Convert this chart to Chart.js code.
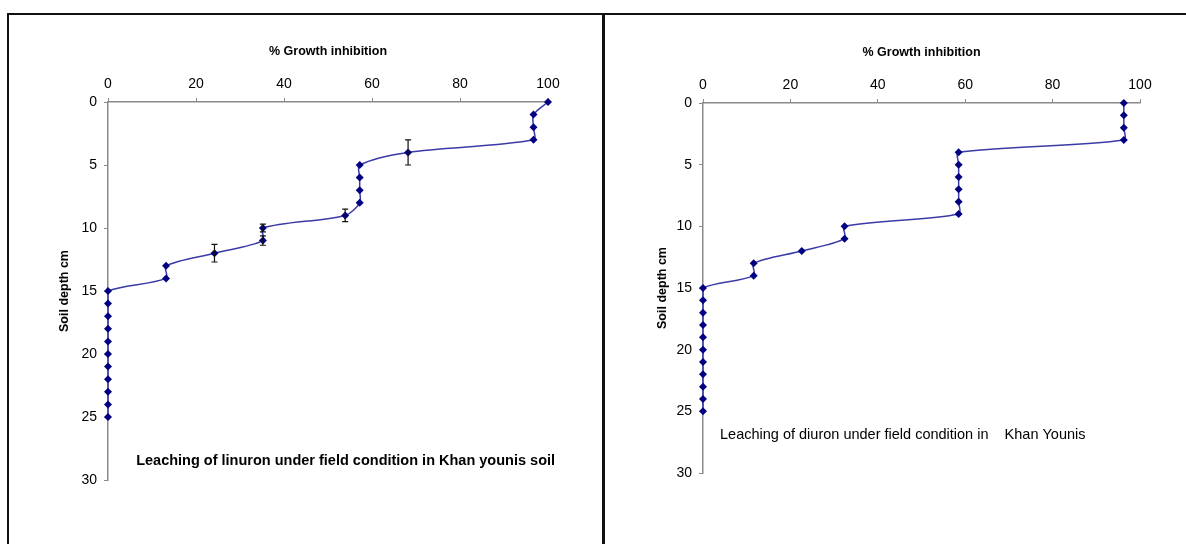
<!DOCTYPE html>
<html>
<head>
<meta charset="utf-8">
<script src="https://cdn.jsdelivr.net/npm/chart.js@4/dist/chart.umd.min.js"></script>
<style>
  body { margin: 0; background: #fff; width: 1186px; height: 544px; overflow: hidden; position: relative; }
  .ln { position: absolute; background: #111; }
  canvas { position: absolute; }
</style>
</head>
<body>
<div class="ln" style="left:7px; top:13px; width:1179px; height:2px;"></div>
<div class="ln" style="left:7px; top:13px; width:2px; height:531px;"></div>
<div class="ln" style="left:602px; top:13px; width:3px; height:531px;"></div>
<canvas id="leftChart" style="left:9px; top:15px;" width="593" height="529"></canvas>
<canvas id="rightChart" style="left:605px; top:15px;" width="581" height="529"></canvas>
<script>
// soil depth (cm) of each sample
const depths = [0, 1, 2, 3, 4, 5, 6, 7, 8, 9, 10, 11, 12, 13, 14, 15, 16, 17, 18, 19, 20, 21, 22, 23, 24, 25];
// % growth inhibition, linuron (left) and diuron (right)
const linuron = [100, 96.7, 96.7, 96.7, 68.2, 57.2, 57.2, 57.2, 57.2, 53.9, 35.2, 35.2, 24.2, 13.2, 13.2, 0, 0, 0, 0, 0, 0, 0, 0, 0, 0, 0];
const linuronErr = [0, 0, 0, 0, 1.0, 0, 0, 0, 0, 0.5, 0.3, 0.37, 0.7, 0, 0, 0, 0, 0, 0, 0, 0, 0, 0, 0, 0, 0];
const diuron = [96.3, 96.3, 96.3, 96.3, 58.5, 58.5, 58.5, 58.5, 58.5, 58.5, 32.4, 32.4, 22.6, 11.6, 11.6, 0, 0, 0, 0, 0, 0, 0, 0, 0, 0, 0];
const xTicks = [0, 20, 40, 60, 80, 100];
const yTicks = [0, 5, 10, 15, 20, 25, 30];

const FONT = "'Liberation Sans', Arial, sans-serif";

// vertical error bars drawn through the scales
const errorBars = {
  id: "errorBars",
  afterDatasetsDraw(chart, args, opts) {
    if (!opts.err) return;
    const ctx = chart.ctx, x = chart.scales.x, y = chart.scales.y;
    ctx.save();
    ctx.strokeStyle = "#111";
    ctx.lineWidth = 1.2;
    opts.err.forEach((e, i) => {
      if (!e) return;
      const px = x.getPixelForValue(opts.vals[i]);
      const y1 = y.getPixelForValue(depths[i] - e);
      const y2 = y.getPixelForValue(depths[i] + e);
      ctx.beginPath();
      ctx.moveTo(px, y1); ctx.lineTo(px, y2);
      ctx.moveTo(px - 3, y1); ctx.lineTo(px + 3, y1);
      ctx.moveTo(px - 3, y2); ctx.lineTo(px + 3, y2);
      ctx.stroke();
    });
    ctx.restore();
  }
};

// caption inside the plot
const caption = {
  id: "caption",
  afterDraw(chart, args, opts) {
    const ctx = chart.ctx;
    ctx.save();
    ctx.font = opts.font;
    ctx.fillStyle = "#000";
    ctx.textBaseline = "middle";
    ctx.fillText(opts.text, chart.scales.x.getPixelForValue(opts.x), chart.scales.y.getPixelForValue(opts.y));
    ctx.restore();
  }
};

function makeChart(id, vals, err, cfg) {
  return new Chart(document.getElementById(id), {
    type: "scatter",
    data: {
      datasets: [{
        data: depths.map((d, i) => ({ x: vals[i], y: d })),
        showLine: true,
        tension: 0.3,
        borderColor: "#3b3ba8",
        borderWidth: 1.5,
        pointStyle: "rectRot",
        pointRadius: 4,
        pointBackgroundColor: "#000080",
        pointBorderColor: "#000080",
        pointBorderWidth: 0,
        clip: false
      }]
    },
    options: {
      responsive: false,
      animation: false,
      layout: { padding: cfg.padding },
      plugins: {
        legend: { display: false },
        tooltip: { enabled: false },
        errorBars: { err: err, vals: vals },
        caption: cfg.caption
      },
      scales: {
        x: {
          type: "linear", position: "top", min: 0, max: 100,
          afterBuildTicks: s => { s.ticks = xTicks.map(v => ({ value: v })); },
          afterFit: s => { s.height = cfg.top; },
          grid: { drawOnChartArea: false, tickLength: 4, color: "#8a8a8a" },
          border: { color: "#8a8a8a", width: 1.5 },
          ticks: { color: "#000", padding: 5, maxRotation: 0, font: { family: FONT, size: 14 } },
          title: { display: true, text: "% Growth inhibition", color: "#000",
                   font: { family: FONT, size: 12.5, weight: "bold" }, padding: { top: cfg.xTitle, bottom: 0 } }
        },
        y: {
          type: "linear", reverse: true, min: 0, max: 30,
          afterBuildTicks: s => { s.ticks = yTicks.map(v => ({ value: v })); },
          afterFit: s => { s.width = cfg.left; },
          grid: { drawOnChartArea: false, tickLength: 4, color: "#8a8a8a" },
          border: { color: "#8a8a8a", width: 1.5 },
          ticks: { color: "#000", padding: 7, font: { family: FONT, size: 14 } },
          title: { display: true, text: "Soil depth cm", color: "#000",
                   font: { family: FONT, size: 12.5, weight: "bold" }, padding: { top: cfg.yTitle, bottom: 0 } }
        }
      }
    },
    plugins: [errorBars, caption]
  });
}

makeChart("leftChart", linuron, linuronErr, {
  padding: { left: 0, top: 0, right: 54, bottom: 64 },
  top: 87, left: 99, xTitle: 29, yTitle: 48,
  caption: { text: "Leaching of linuron under field condition in Khan younis soil",
             font: "bold 14.5px " + FONT, x: 6.4, y: 28.5 }
});

makeChart("rightChart", diuron, null, {
  padding: { left: 0, top: 0, right: 46, bottom: 71 },
  top: 88, left: 98, xTitle: 30, yTitle: 50,
  caption: { text: "Leaching of diuron under field condition in    Khan Younis",
             font: "14.5px " + FONT, x: 3.9, y: 26.9 }
});
</script>
</body>
</html>
